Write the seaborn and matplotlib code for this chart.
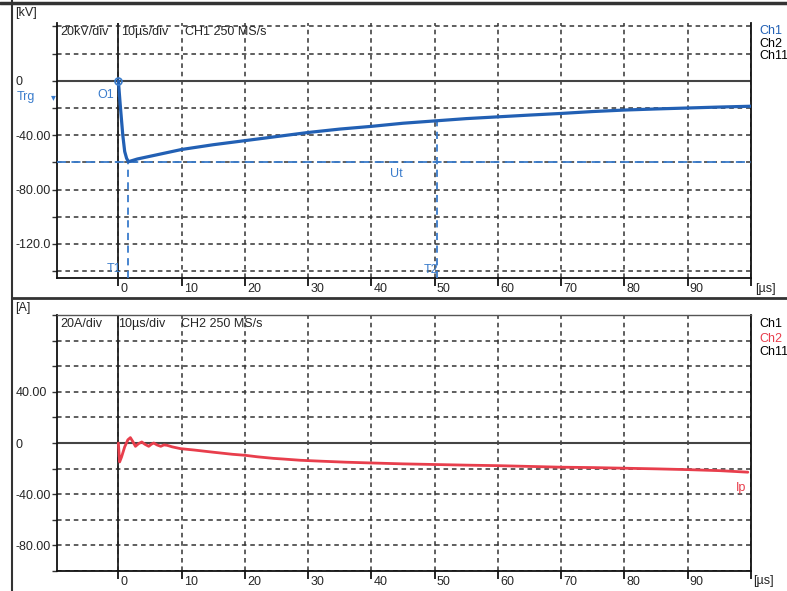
import numpy as np
import matplotlib
matplotlib.use('Agg')
import matplotlib.pyplot as plt
import matplotlib.transforms as mtransforms
import seaborn as sns

# Channel 1: voltage impulse (kV)
t_kv = [0, 0.3, 0.7, 1.0, 1.3, 1.6, 3, 5, 7.5, 10, 15, 20, 25, 30, 35, 40,
        45, 50, 55, 60, 65, 70, 75, 80, 85, 90, 95, 100]
u_kv = [0, -18, -40, -52, -57, -59.5, -57.5, -55.5, -53, -50.5, -47, -44,
        -41, -38, -35.5, -33.5, -31.2, -29.5, -27.8, -26.5, -25.2, -24, -22.6,
        -21.5, -20.7, -20, -19.3, -18.7]

# Channel 2: current (A)
t_a = [0, 0.2, 0.5, 1.0, 1.5, 1.9, 2.3, 2.7, 3.2, 3.7, 4.2, 4.8, 5.2, 5.6,
       6.1, 6.7, 7.2, 7.7, 8.5, 9.8, 12, 15, 18, 20, 22, 24.5, 26, 28.8, 32,
       36, 40, 45, 50, 55, 60, 65, 70, 75, 80, 85, 90, 95, 99.5]
i_a = [0, -14.8, -11, -3, 2.5, 4.2, 1, -2.6, -0.5, 0.8, -1, -2.6, -1, 0,
       -1.5, -2.6, -1.5, -1.8, -3, -4.4, -5.5, -7.2, -8.8, -9.6, -10.8, -12,
       -12.5, -13.5, -14.2, -15, -15.6, -16.3, -16.8, -17.3, -17.7, -18.3,
       -18.9, -19.2, -19.7, -20.2, -20.8, -21.6, -22.8]

# cursors
t1_us = 1.5
t2_us = 50.3
ut_kv = -59.5

x_ticks = list(range(0, 110, 10))
x_labels = [str(v) for v in range(0, 100, 10)] + ['']
kv_ticks = list(range(40, -150, -20))
kv_labels = {0: '0', -40: '-40.00', -80: '-80.00', -120: '-120.0'}
a_ticks = list(range(100, -110, -20))
a_labels = {40: '40.00', 0: '0', -40: '-40.00', -80: '-80.00'}

BLUE = '#2260b4'
LBLUE = '#3a7ccc'
RED = '#e83e4c'
GRID = '#333333'
FS = 9

sns.set_style('white')
plt.rcParams['font.family'] = ['Liberation Sans', 'DejaVu Sans']
plt.rcParams['font.size'] = FS

W, H = 787, 591
fig = plt.figure(figsize=(W / 100, H / 100), dpi=100)


def px(x, y):
    return x / W, 1 - y / H


ax1 = fig.add_axes([57 / W, 1 - 278 / H, (751 - 57) / W, (278 - 23) / H])
ax2 = fig.add_axes([57 / W, 1 - 571 / H, (751 - 57) / W, (571 - 315) / H])


def style_axis(ax, yticks, ylabels, ylim):
    ax.set_xlim(-9.7, 100)
    ax.set_ylim(*ylim)
    ax.set_xticks(x_ticks)
    ax.set_xticklabels(x_labels)
    ax.set_yticks(yticks)
    ax.set_yticklabels([ylabels.get(v, '') for v in yticks])
    ax.grid(True, linestyle=(0, (3, 2.5)), color=GRID, linewidth=1.1)
    ax.set_axisbelow(True)
    ax.axhline(0, color='#444444', lw=1.5, zorder=1)
    ax.axvline(0, color='#222222', lw=1.3, zorder=1)
    ax.tick_params(axis='x', bottom=True, direction='out', length=6,
                   width=1.2, color='black', pad=-2.6, labelsize=FS)
    ax.tick_params(axis='y', left=True, direction='out', length=3.6,
                   width=1, color=GRID, pad=26, labelsize=FS)
    off = mtransforms.ScaledTranslation(2 / 100, 0, fig.dpi_scale_trans)
    for lab in ax.get_xticklabels():
        lab.set_ha('left')
        lab.set_transform(lab.get_transform() + off)
    for lab in ax.get_yticklabels():
        lab.set_ha('left')
    for side in ['left', 'right', 'bottom']:
        ax.spines[side].set_color('#111111')
        ax.spines[side].set_linewidth(1.3)
    ax.set_xlabel('')
    ax.set_ylabel('')


style_axis(ax1, kv_ticks, kv_labels, (-145, 42.5))
ax1.spines['top'].set_visible(False)
style_axis(ax2, a_ticks, a_labels, (-100, 100))
ax2.spines['top'].set_color('#555555')
ax2.spines['top'].set_linewidth(1.0)

# traces
sns.lineplot(x=t_kv, y=u_kv, ax=ax1, color=BLUE, lw=2.3, zorder=5)
ax1.plot([t_kv[0]], [u_kv[0]], marker='o', ms=5, mfc='none', mec=LBLUE,
         mew=1.2, zorder=6)
sns.lineplot(x=t_a, y=i_a, ax=ax2, color=RED, lw=2.0, zorder=5)

# cursors
ax1.axhline(ut_kv, color=LBLUE, lw=1.3, ls=(0, (5, 3)), zorder=4)
ax1.vlines([t1_us], -145, ut_kv, color=LBLUE, lw=1.3, ls=(0, (4, 3)), zorder=4)
ax1.vlines([t2_us], -145, np.interp(t2_us, t_kv, u_kv), color=LBLUE, lw=1.3,
           ls=(0, (4, 3)), zorder=4)

# texts
fig.text(*px(15, 13), '[kV]', va='center', ha='left')
fig.text(*px(15, 308), '[A]', va='center', ha='left')
fig.text(*px(755, 289), '[µs]', va='center', ha='left')
fig.text(*px(753, 581), '[µs]', va='center', ha='left')

fig.text(*px(60, 32), '20kV/div', va='center', ha='left')
fig.text(*px(121, 32), '10µs/div', va='center', ha='left')
fig.text(*px(185, 32), 'CH1 250 MS/s', va='center', ha='left')
fig.text(*px(60, 324), '20A/div', va='center', ha='left')
fig.text(*px(118, 324), '10µs/div', va='center', ha='left')
fig.text(*px(181, 324), 'CH2 250 MS/s', va='center', ha='left')

for y, s, c in [(31, 'Ch1', BLUE), (44, 'Ch2', 'black'), (56, 'Ch11', 'black'),
                (324, 'Ch1', 'black'), (339, 'Ch2', RED), (352, 'Ch11', 'black')]:
    fig.text(*px(759, y), s, va='center', ha='left', color=c)

fig.text(*px(17, 97), 'Trg', va='center', ha='left', color=LBLUE)
fig.text(*px(51, 97), '▾', va='center', ha='left', fontsize=7, color=LBLUE,
         family=['DejaVu Sans'])
fig.text(*px(97, 95), 'O1', va='center', ha='left', color=LBLUE)
fig.text(*px(390, 174), 'Ut', va='center', ha='left', color=LBLUE)
fig.text(*px(107, 269), 'T1', va='center', ha='left', color=LBLUE)
fig.text(*px(424, 270), 'T2', va='center', ha='left', color=LBLUE)
fig.text(*px(736, 488), 'Ip', va='center', ha='left', color=RED)

# window frame
for xs, ys, lw in [([0, W], [3, 3], 2.5), ([12, 12], [0, H], 1.5),
                   ([12, W], [298, 298], 2.0)]:
    fig.add_artist(plt.Line2D([x / W for x in xs], [1 - y / H for y in ys],
                              color='#333333', lw=lw,
                              transform=fig.transFigure))

fig.savefig('out.png', dpi=100)
